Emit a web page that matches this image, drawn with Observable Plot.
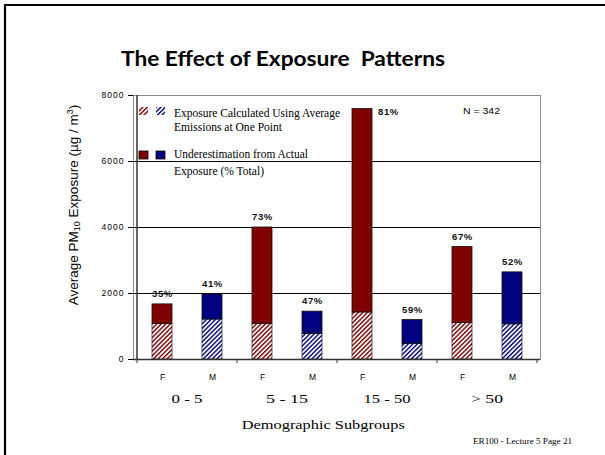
<!DOCTYPE html>
<html>
<head>
<meta charset="utf-8">
<script src="https://cdn.jsdelivr.net/npm/d3@7"></script>
<script src="https://cdn.jsdelivr.net/npm/@observablehq/plot@0.6"></script>
<style>
  html, body { margin: 0; padding: 0; background: #fff; }
  #chart { width: 605px; height: 455px; position: relative; overflow: hidden; }
  g[aria-label="y-axis tick label"] text { letter-spacing: 1px; }
  g[aria-label="text"] text { letter-spacing: 0.6px; }
</style>
</head>
<body>
<div id="chart"></div>
<script>
// ---- data ----
const groups = ["0 - 5", "5 - 15", "15 - 50", "> 50"];
const sexes = ["F", "M"];
const totalExposure = [1670, 1970, 4000, 1450, 7590, 1195, 3410, 2640];
const calculatedExposure = [1075, 1210, 1075, 770, 1425, 470, 1105, 1065];
const underestimationPct = ["35%", "41%", "73%", "47%", "81%", "59%", "67%", "52%"];
const yTicks = [0, 2000, 4000, 6000, 8000];
const titleText = "The Effect of Exposure  Patterns";
const legendCalc = ["Exposure Calculated Using Average", "Emissions at One Point"];
const legendUnder = ["Underestimation from Actual", "Exposure (% Total)"];
const sampleNote = "N = 342";
const xTitle = "Demographic Subgroups";
const footer = "ER100 - Lecture 5 Page 21";

const RED = "#800000", BLUE = "#000080";

const rows = groups.flatMap((g, i) => sexes.map((s, j) => {
  const k = i * 2 + j;
  return {key: g + "|" + s, group: g, sex: s, total: totalExposure[k], calc: calculatedExposure[k], pct: underestimationPct[k]};
}));

const chart = Plot.plot({
  width: 605, height: 455,
  marginLeft: 133, marginRight: 65, marginTop: 95, marginBottom: 96,
  style: {fontFamily: "'Liberation Sans', Arial, sans-serif", fontSize: "8.5px", background: "#fff", color: "#000"},
  x: {type: "band", domain: rows.map(d => d.key), padding: 0, axis: "bottom", tickSize: 0, tickPadding: 14,
      tickFormat: k => k.split("|")[1], label: null},
  y: {domain: [0, 8000], ticks: yTicks, tickSize: 5, tickPadding: 4, label: null, tickFormat: d => String(d)},
  color: {type: "identity"},
  marks: [
    Plot.frame({stroke: "#8c8c8c"}),
    Plot.ruleY([2000, 4000, 6000], {stroke: "#000", strokeWidth: 1}),
    Plot.barY(rows, {x: "key", y1: 0, y2: "calc", fill: d => d.sex === "F" ? "url(#hatchF)" : "url(#hatchM)",
      stroke: "#222", strokeWidth: 0.7, insetLeft: 15, insetRight: 15}),
    Plot.barY(rows, {x: "key", y1: "calc", y2: "total", fill: d => d.sex === "F" ? RED : BLUE,
      stroke: "#111", strokeWidth: 0.8, insetLeft: 15, insetRight: 15}),
    Plot.ruleY([0], {stroke: "#333", strokeWidth: 1.5}),
    Plot.text(rows.filter(d => d.total < 7000), {x: "key", y: "total", text: "pct", dy: -10.5,
      fontWeight: "bold", fontSize: 9.5, fill: "#111"}),
    Plot.text(rows.filter(d => d.total >= 7000), {x: "key", y: "total", text: "pct", dx: 26, dy: 3,
      fontWeight: "bold", fontSize: 9.5, fill: "#111"})
  ]
});
document.getElementById("chart").appendChild(chart);

const svg = d3.select(chart);
const xs = chart.scale("x");
const ys = chart.scale("y");

// hatch patterns
const defs = svg.insert("defs", ":first-child");
[["hatchF", RED], ["hatchM", BLUE]].forEach(([id, c]) => {
  const p = defs.append("pattern").attr("id", id).attr("patternUnits", "userSpaceOnUse")
    .attr("width", 3.2).attr("height", 3.2).attr("patternTransform", "rotate(45)");
  p.append("rect").attr("width", 3.2).attr("height", 3.2).attr("fill", "#fff");
  p.append("rect").attr("width", 1.4).attr("height", 3.2).attr("fill", c);
});

const x0 = xs.apply(rows[0].key);
const xEnd = xs.apply(rows[rows.length - 1].key) + xs.bandwidth;
const yTop = ys.apply(8000), yBot = ys.apply(0);

// left axis line
svg.append("line").attr("x1", x0).attr("x2", x0).attr("y1", yTop).attr("y2", yBot)
  .attr("stroke", "#333").attr("stroke-width", 1.5);

const serif = "'Liberation Serif', 'Times New Roman', serif";

// group boundary ticks and group labels
const groupWidths = [31, 42, 47, 32];
groups.forEach((g, i) => {
  const a = xs.apply(g + "|F");
  svg.append("line").attr("x1", a).attr("x2", a).attr("y1", yBot).attr("y2", yBot + 4)
    .attr("stroke", "#333").attr("stroke-width", 1);
  const c = a + xs.bandwidth;
  svg.append("text").attr("x", c).attr("y", 403.3).attr("text-anchor", "middle")
    .attr("font-family", serif).attr("font-size", 12.3)
    .attr("textLength", groupWidths[i]).attr("lengthAdjust", "spacingAndGlyphs").text(g);
});
svg.append("line").attr("x1", xEnd).attr("x2", xEnd).attr("y1", yBot).attr("y2", yBot + 4)
  .attr("stroke", "#333").attr("stroke-width", 1);

// slide border
svg.append("line").attr("x1", 4).attr("x2", 605).attr("y1", 5).attr("y2", 5).attr("stroke", "#000").attr("stroke-width", 2.2);
svg.append("line").attr("x1", 5).attr("x2", 5).attr("y1", 4).attr("y2", 455).attr("stroke", "#000").attr("stroke-width", 2.2);

// title
svg.append("text").attr("x", 283).attr("y", 66).attr("text-anchor", "middle")
  .attr("font-family", "Lato, 'Open Sans', sans-serif").attr("font-weight", 700).attr("font-size", 21)
  .attr("textLength", 324).attr("lengthAdjust", "spacingAndGlyphs").style("white-space", "pre").text(titleText);

// y axis title
const yt = svg.append("text").attr("transform", "translate(77.5,205) rotate(-90)").attr("text-anchor", "middle")
  .attr("font-family", "'Liberation Sans', Arial, sans-serif").attr("font-size", 13.5);
yt.append("tspan").text("Average PM");
yt.append("tspan").attr("font-size", 9).attr("dy", 2).text("10");
yt.append("tspan").attr("dy", -2).text(" Exposure (\u00b5g / m");
yt.append("tspan").attr("font-size", 9).attr("dy", -5).text("3");
yt.append("tspan").attr("dy", 5).text(")");

// legend
[[139, 107, "url(#hatchF)"], [156, 107, "url(#hatchM)"]].forEach(([x, y, f]) => {
  svg.append("rect").attr("x", x).attr("y", y).attr("width", 9).attr("height", 8).attr("fill", f);
});
[[139, 151, RED], [156, 151, BLUE]].forEach(([x, y, f]) => {
  svg.append("rect").attr("x", x).attr("y", y).attr("width", 9).attr("height", 8).attr("fill", f)
    .attr("stroke", "#000").attr("stroke-width", 0.8);
});
const legendLines = [[legendCalc[0], 117, 166], [legendCalc[1], 131, 108], [legendUnder[0], 158, 134], [legendUnder[1], 174.5, 90]];
legendLines.forEach(([t, y, w]) => {
  svg.append("text").attr("x", 174).attr("y", y).attr("text-anchor", "start").attr("font-family", serif).attr("font-size", 12.3)
    .attr("textLength", w).attr("lengthAdjust", "spacingAndGlyphs").text(t);
});

// N note
svg.append("text").attr("x", 463).attr("y", 114).attr("text-anchor", "start").attr("font-family", "'Liberation Sans', Arial, sans-serif")
  .attr("font-size", 9.3).attr("textLength", 37).attr("lengthAdjust", "spacingAndGlyphs").text(sampleNote);

// x axis title
svg.append("text").attr("x", 323.3).attr("y", 428.5).attr("text-anchor", "middle").attr("font-family", serif)
  .attr("font-size", 12.5).attr("textLength", 163).attr("lengthAdjust", "spacingAndGlyphs").text(xTitle);

// footer
svg.append("text").attr("x", 473).attr("y", 444).attr("text-anchor", "start").attr("font-family", serif)
  .attr("font-size", 7.3).attr("textLength", 99).attr("lengthAdjust", "spacingAndGlyphs").text(footer);
</script>
</body>
</html>
